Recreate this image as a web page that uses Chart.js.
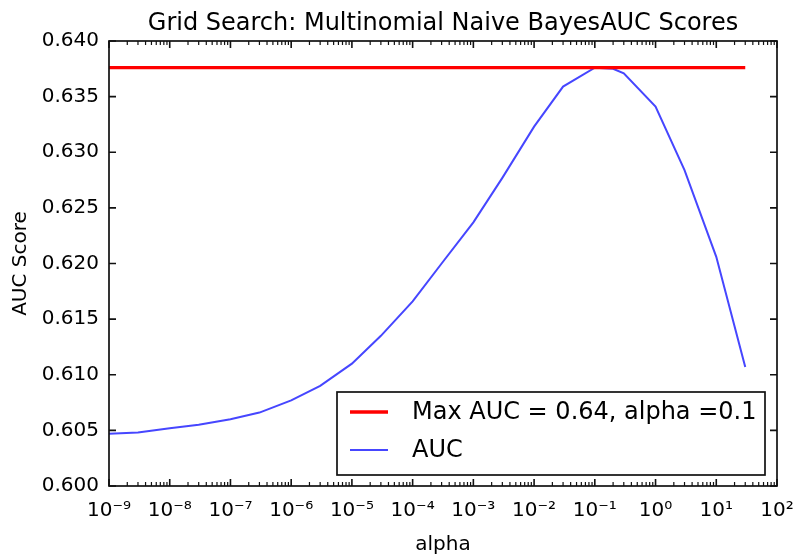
<!DOCTYPE html>
<html>
<head>
<meta charset="utf-8">
<script src="https://cdn.jsdelivr.net/npm/chart.js@4.4.0/dist/chart.umd.min.js"></script>
<style>
  html, body { margin: 0; padding: 0; background: #fff; }
  canvas { display: block; }
</style>
</head>
<body>
<canvas id="grafico" width="796" height="560"></canvas>
<script>
// --- DADOS ---
const alphas = [1e-9, 3e-9, 1e-8, 3e-8, 1e-7, 3e-7, 1e-6, 3e-6, 1e-5, 3e-5, 1e-4, 3e-4,
                1e-3, 3e-3, 1e-2, 3e-2, 0.1, 0.2, 0.3, 1, 3, 10, 30];
const aucScores = [0.6047, 0.6048, 0.6052, 0.6055, 0.6060, 0.6066, 0.6077, 0.6090, 0.6110, 0.6135, 0.6166, 0.6200,
                   0.6237, 0.6277, 0.6323, 0.6359, 0.6376, 0.6375, 0.6371, 0.6341, 0.6284, 0.6206, 0.6107];
const maxAuc = 0.6376;
const maxLabel = 'Max AUC = 0.64, alpha =0.1';
const aucLabel = 'AUC';
const tituloTexto = 'Grid Search: Multinomial Naive BayesAUC Scores';
const xTicks = [1e-9, 1e-8, 1e-7, 1e-6, 1e-5, 1e-4, 1e-3, 1e-2, 1e-1, 1e0, 1e1, 1e2];
const xTickLabels = ['10⁻⁹', '10⁻⁸', '10⁻⁷', '10⁻⁶', '10⁻⁵', '10⁻⁴', '10⁻³', '10⁻²', '10⁻¹', '10⁰', '10¹', '10²'];
const yTicks = [0.600, 0.605, 0.610, 0.615, 0.620, 0.625, 0.630, 0.635, 0.640];

Chart.defaults.font.family = '"DejaVu Sans", sans-serif';
Chart.defaults.color = '#000';

// titulo centrado sobre a area do grafico (como no matplotlib)
const tituloPlugin = {
    id: 'titulo',
    afterDraw(chart) {
        const {ctx, chartArea: a} = chart;
        ctx.save();
        ctx.font = '24px "DejaVu Sans"';
        ctx.fillStyle = '#000';
        ctx.textAlign = 'center';
        ctx.textBaseline = 'alphabetic';
        ctx.fillText(tituloTexto, (a.left + a.right) / 2, a.top - 11.5);
        ctx.restore();
    }
};

// moldura + ticks para dentro (estilo matplotlib)
const molduraPlugin = {
    id: 'moldura',
    afterDatasetsDraw(chart) {
        const {ctx, chartArea: a, scales: {x, y}} = chart;
        ctx.save();
        ctx.strokeStyle = '#111';
        ctx.lineWidth = 1.6;
        ctx.beginPath();
        xTicks.forEach(v => {
            const px = x.getPixelForValue(v);
            ctx.moveTo(px, a.bottom); ctx.lineTo(px, a.bottom - 7);
            ctx.moveTo(px, a.top); ctx.lineTo(px, a.top + 7);
        });
        yTicks.forEach(v => {
            const py = y.getPixelForValue(v);
            ctx.moveTo(a.left, py); ctx.lineTo(a.left + 7, py);
            ctx.moveTo(a.right, py); ctx.lineTo(a.right - 7, py);
        });
        ctx.stroke();
        ctx.lineWidth = 1.2;
        ctx.beginPath();
        for (let i = 0; i < xTicks.length - 1; i++) {
            for (let k = 2; k <= 9; k++) {
                const px = x.getPixelForValue(xTicks[i] * k);
                ctx.moveTo(px, a.bottom); ctx.lineTo(px, a.bottom - 4);
                ctx.moveTo(px, a.top); ctx.lineTo(px, a.top + 4);
            }
        }
        ctx.stroke();
        ctx.lineWidth = 1.7;
        ctx.strokeRect(a.left, a.top, a.right - a.left, a.bottom - a.top);
        ctx.restore();
    }
};

// legenda com caixa, dentro do grafico
const legendaPlugin = {
    id: 'legenda',
    afterDraw(chart) {
        const {ctx, chartArea: a} = chart;
        const w = 428, h = 83;
        const bx = a.right - 12 - w, by = a.bottom - 11 - h;
        ctx.save();
        ctx.fillStyle = '#fff';
        ctx.fillRect(bx, by, w, h);
        ctx.strokeStyle = '#111';
        ctx.lineWidth = 1.7;
        ctx.strokeRect(bx, by, w, h);
        ctx.font = '24px "DejaVu Sans"';
        ctx.textBaseline = 'middle';
        ctx.fillStyle = '#000';
        chart.data.datasets.forEach((ds, i) => {
            const cy = by + 20 + i * 38;
            ctx.strokeStyle = ds.borderColor;
            ctx.lineWidth = ds.borderWidth;
            ctx.beginPath();
            ctx.moveTo(bx + 13, cy); ctx.lineTo(bx + 51, cy);
            ctx.stroke();
            ctx.fillText(ds.label, bx + 75, cy + 1);
        });
        ctx.restore();
    }
};

new Chart(document.getElementById('grafico'), {
    type: 'line',
    data: {
        datasets: [
            {
                label: maxLabel,
                data: [{x: alphas[0], y: maxAuc}, {x: alphas[alphas.length - 1], y: maxAuc}],
                borderColor: '#ff0000', borderWidth: 3.3, pointRadius: 0
            },
            {
                label: aucLabel,
                data: alphas.map((a, i) => ({x: a, y: aucScores[i]})),
                borderColor: '#4646ff', borderWidth: 2, pointRadius: 0, tension: 0
            }
        ]
    },
    options: {
        responsive: false,
        animation: false,
        devicePixelRatio: 1,
        layout: { padding: { left: 0, right: 19, top: 41, bottom: 0 } },
        plugins: {
            legend: { display: false },
            tooltip: { enabled: false },
            title: { display: false }
        },
        scales: {
            x: {
                type: 'logarithmic',
                min: 1e-9, max: 1e2,
                grid: { display: false, drawTicks: false },
                border: { display: false },
                afterBuildTicks: s => { s.ticks = xTicks.map(v => ({value: v})); },
                afterFit: s => { s.height = 74; s.paddingLeft = 0; s.paddingRight = 0; },
                ticks: {
                    autoSkip: false, maxRotation: 0, padding: 13,
                    font: { size: 20 }, color: '#000',
                    callback: (v) => xTickLabels[xTicks.indexOf(v)] ?? ''
                },
                title: { display: true, text: 'alpha', font: { size: 20 }, color: '#000', padding: { top: 0, bottom: 3 } }
            },
            y: {
                min: 0.600, max: 0.640,
                grid: { display: false, drawTicks: false },
                border: { display: false },
                afterBuildTicks: s => { s.ticks = yTicks.map(v => ({value: v})); },
                afterFit: s => { s.width = 109; s.paddingTop = 0; s.paddingBottom = 0; },
                ticks: {
                    padding: 10, font: { size: 20 }, color: '#000',
                    callback: v => v.toFixed(3)
                },
                title: { display: true, text: 'AUC Score', font: { size: 20 }, color: '#000', padding: { top: 9, bottom: 0 } }
            }
        }
    },
    plugins: [molduraPlugin, legendaPlugin, tituloPlugin]
});
</script>
</body>
</html>
